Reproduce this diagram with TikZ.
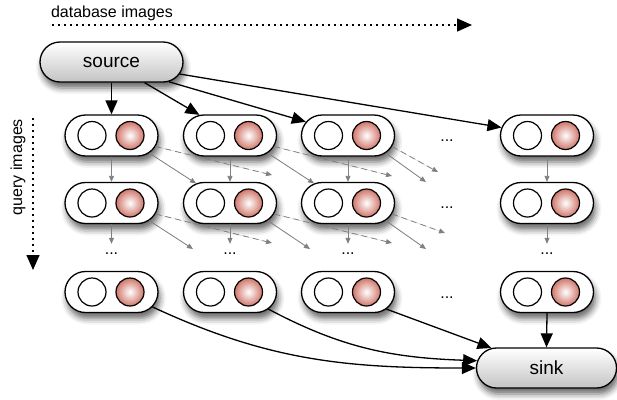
\documentclass[tikz,border=0pt]{standalone}
\usepackage{fontspec}
\setmainfont{Liberation Sans}
\usetikzlibrary{shapes.misc,arrows.meta,shadows.blur,calc}
\definecolor{ballred}{RGB}{208,118,106}
\definecolor{termgray}{RGB}{196,196,196}
\begin{document}
\begin{tikzpicture}[x=1pt,y=-1pt,
 shadowed/.style={blur shadow={shadow xshift=2pt,shadow yshift=-6pt,shadow blur radius=6pt,shadow opacity=60}},
 pill/.style={rounded rectangle, draw, line width=1.3pt, fill=white, minimum width=93pt, minimum height=41pt, inner sep=0pt, shadowed},
 term/.style={rounded rectangle, draw, line width=1.3pt, top color=white, bottom color=termgray, minimum width=143pt, minimum height=40pt, inner sep=0pt, font=\fontsize{19}{22}\selectfont, shadowed},
 wdot/.style={circle, draw, line width=1.2pt, fill=white, minimum size=28pt, inner sep=0pt},
 rdot/.style={circle, draw, line width=1.2pt, inner color=white, outer color=ballred, minimum size=28pt, inner sep=0pt},
 blk/.style={-{Triangle[length=14pt,width=12pt]}, line width=1.3pt},
 gry/.style={-{Triangle[length=6pt,width=5pt]}, line width=0.8pt, draw=gray, fill=gray},
 gdash/.style={gry, dash pattern=on 6pt off 4pt},
 axisarrow/.style={-{Triangle[length=15pt,width=13pt]}, line width=1.5pt, dash pattern=on 1.8pt off 4.2pt},
 ell/.style={font=\fontsize{16}{18}\selectfont, inner sep=0pt, text height=10pt, anchor=base},
 lbl/.style={font=\fontsize{16}{18}\selectfont, inner sep=0pt}
]
\useasboundingbox (0,0) rectangle (617,399);

% axis labels
\node[lbl] (dbl) at (112,13) {database images};
\node[lbl, rotate=90] (ql) at (18,167) {query images};
\coordinate (ax1) at (52,25);
\coordinate (ax2) at (472,25);
\coordinate (ay1) at (33,118);
\coordinate (ay2) at (33,270);
\draw[axisarrow] (ax1) -- (ax2);
\draw[axisarrow] (ay1) -- (ay2);

% source and sink
\node[term] (source) at (111.5,62) {source};
\node[term, minimum width=140pt] (sink) at (546.5,368) {sink};

% grid of pills
\foreach \r/\y in {1/135.5,2/203,3/292}{
  \foreach \c/\x in {1/111.5,2/230,3/348,4/547}{
    \node[pill] (n\r\c) at (\x,\y) {};
    \node[wdot] (w\r\c) at ([xshift=-19.5pt]n\r\c.center) {};
    \node[rdot] (rd\r\c) at ([xshift=18.5pt]n\r\c.center) {};
  }
}

% ellipses
\node[ell] (h1) at (447,141.5) {...};
\node[ell] (h2) at (447,208.5) {...};
\node[ell] (h3) at (447,298.5) {...};
\foreach \c/\x in {1/111.5,2/230,3/348,4/547}{
  \node[ell] (v\c) at (\x,254) {...};
}

% free ends of grey arrows
\coordinate (e13) at (426,182);
\coordinate (e21) at (193,249);
\coordinate (e22) at (310,249);
\coordinate (e23) at (426,249);
\coordinate (f11) at (272,175);
\coordinate (f12) at (392,176);
\coordinate (f13) at (438,172);
\coordinate (f21) at (272,243);
\coordinate (f22) at (392,243);
\coordinate (f23) at (445,233);

% grey arrows
\foreach \c in {1,2,3,4}{
  \draw[gry] (n1\c.south) -- (n2\c.north);
  \draw[gry] (n2\c.south) -- (v\c.north);
}
\draw[gry] (n11.-25) -- (n22.150);
\draw[gry] (n12.-25) -- (n23.150);
\draw[gry] (n13.-25) -- (e13);
\draw[gry] (n21.-25) -- (e21);
\draw[gry] (n22.-25) -- (e22);
\draw[gry] (n23.-25) -- (e23);
\draw[gdash] (n11.-14) -- (f11);
\draw[gdash] (n12.-14) -- (f12);
\draw[gdash] (n13.-14) -- (f13);
\draw[gdash] (n21.-14) -- (f21);
\draw[gdash] (n22.-14) -- (f22);
\draw[gdash] (n23.-14) -- (f23);

% black arrows
\draw[blk] (source.south) -- (n11.north);
\draw[blk] (source.-32) -- (n12.146);
\draw[blk] (source.-19) -- (n13.162);
\draw[blk] (source.-10) -- (n14.170);

\draw[blk] (n34.south) -- (sink.north);
\draw[blk] (n33.-24) -- (sink.160);
\draw[blk] (n32.-24) to[out=-28,in=178] (sink.174);
\draw[blk] (n31.-20) to[out=-25,in=180] (sink.west);
\end{tikzpicture}
\end{document}
